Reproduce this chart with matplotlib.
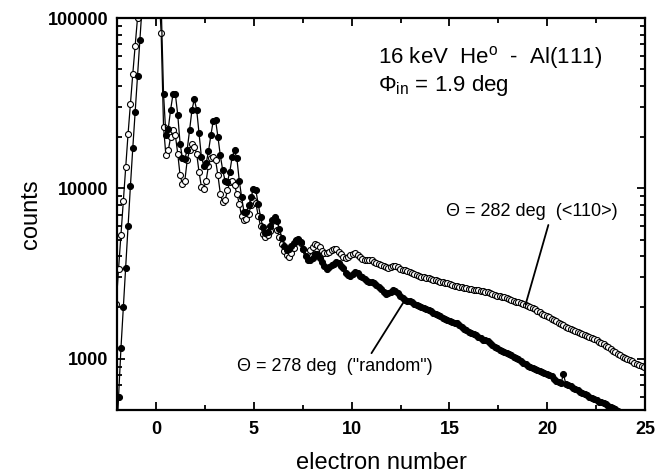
"""
Electron number spectra, 16 keV He on Al(111), two azimuthal angles.
"""

import numpy as np
import matplotlib
matplotlib.use("Agg")
import matplotlib.pyplot as plt
from matplotlib.ticker import MultipleLocator, LogLocator, FixedFormatter, FixedLocator, NullFormatter

plt.rcParams["font.family"] = ["Liberation Sans", "DejaVu Sans"]
plt.rcParams["mathtext.fontset"] = "custom"
plt.rcParams["mathtext.rm"] = "Liberation Sans"
plt.rcParams["mathtext.it"] = "Liberation Sans:italic"

# channel grid in electron-number units (first channel, channel width)
x_start = -2.04
x_step = 0.121

# Theta = 282 deg (<110>), open circles
counts_110 = [
    2100, 3380, 5300, 8400, 13300, 20800, 31200, 46900, 68400, 100000,
    150000, 220000, 300000, 400000, 450000, 450000, 380000, 250000, 150000, 81300,
    23000, 15600, 16700, 20000, 21900, 20500, 16000, 11900, 10600, 11100,
    14600, 16700, 18100, 17500, 16000, 12500, 10200, 9960, 11100, 13600,
    15000, 15300, 14600, 11900, 9300, 8320, 8500, 9730, 10900, 11100,
    10400, 9300, 8120, 6840, 6480, 6640, 7100, 7940, 8570, 8200,
    6930, 6000, 5400, 5170, 5300, 5600, 6200, 6000, 5700, 5200,
    4700, 4300, 4050, 3950, 4150, 4450, 4900, 5000, 4750, 4400,
    4220, 4250, 4350, 4550, 4700, 4650, 4500, 4300, 4150, 4150,
    4220, 4350, 4420, 4380, 4250, 4100, 3980, 3920, 3950, 4050,
    4130, 4150, 4050, 3950, 3850, 3800, 3780, 3800, 3780, 3700,
    3650, 3600, 3560, 3500, 3440, 3420, 3440, 3480, 3500, 3450,
    3380, 3340, 3300, 3260, 3220, 3180, 3140, 3100, 3060, 3030,
    3010, 2990, 2960, 2930, 2900, 2880, 2860, 2840, 2820, 2800,
    2780, 2750, 2720, 2690, 2660, 2640, 2620, 2600, 2590, 2570,
    2560, 2540, 2530, 2520, 2510, 2500, 2480, 2450, 2420, 2390,
    2360, 2340, 2320, 2300, 2290, 2270, 2240, 2210, 2180, 2160,
    2140, 2120, 2100, 2080, 2050, 2020, 1990, 1950, 1910, 1870,
    1840, 1810, 1780, 1750, 1720, 1690, 1660, 1630, 1600, 1570,
    1545, 1520, 1500, 1480, 1460, 1440, 1420, 1400, 1380, 1360,
    1340, 1320, 1300, 1280, 1260, 1240, 1215, 1190, 1165, 1140,
    1115, 1090, 1070, 1050, 1030, 1010, 995, 980, 965, 950,
    935, 920, 910, 895,
]

# Theta = 278 deg ("random"), filled circles
counts_random = [
    300, 600, 1150, 2000, 3400, 6000, 10300, 17200, 28000, 45600,
    74300, 120000, 200000, 300000, 400000, 450000, 420000, 300000, 150000, 120000,
    36000, 20500, 22400, 29000, 35700, 35700, 27100, 18300, 15000, 14800,
    16900, 21900, 28800, 33300, 29000, 21000, 15300, 13600, 14000, 16500,
    20500, 24900, 25100, 20000, 15600, 12800, 11100, 10900, 12500, 15300,
    16700, 15000, 11100, 8900, 7270, 7270, 7940, 8900, 9960, 9740,
    8120, 6780, 5900, 5500, 5550, 6000, 6500, 6780, 6400, 5800,
    5100, 4600, 4320, 4400, 4600, 4750, 4950, 5060, 4850, 4400,
    4030, 3780, 3800, 3900, 4100, 4130, 3900, 3700, 3500, 3380,
    3450, 3550, 3600, 3700, 3650, 3500, 3400, 3200, 3120, 3080,
    3150, 3220, 3180, 3050, 3000, 2920, 2870, 2830, 2810, 2780,
    2720, 2650, 2560, 2470, 2400, 2420, 2480, 2520, 2500, 2420,
    2330, 2260, 2210, 2190, 2170, 2150, 2100, 2060, 2050, 2020,
    1980, 1950, 1930, 1900, 1860, 1830, 1800, 1770, 1740, 1720,
    1690, 1660, 1640, 1630, 1610, 1570, 1530, 1500, 1470, 1440,
    1420, 1400, 1370, 1340, 1320, 1290, 1290, 1270, 1240, 1200,
    1170, 1150, 1120, 1110, 1090, 1080, 1070, 1050, 1030, 1010,
    990, 970, 950, 930, 910, 890, 880, 870, 860, 850,
    835, 825, 815, 805, 790, 760, 745, 730, 720, 810,
    715, 700, 690, 675, 665, 655, 640, 630, 620, 610,
    600, 590, 580, 570, 560, 555, 550, 540, 530, 520,
    515, 505, 495, 485, 470, 460, 450, 440, 430, 420,
    410, 400, 390, 380,
]

electron_number = x_start + x_step * np.arange(len(counts_110))

y_ticks = [1000, 10000, 100000]
y_tick_labels = ["1000", "10000", "100000"]

fig = plt.figure(figsize=(6.67, 4.75), dpi=100)
ax = fig.add_axes([0.1754, 0.1368, 0.7916, 0.8253])

ax.plot(electron_number, counts_110, "-o", color="black", lw=0.9,
        ms=4.3, mfc="white", mec="black", mew=0.8)
ax.plot(electron_number, counts_random, "-o", color="black", lw=0.9,
        ms=4.3, mfc="black", mec="black", mew=0.8)

ax.set_yscale("log")
ax.set_xlim(-2, 25)
ax.set_ylim(500, 100000)

ax.xaxis.set_major_locator(MultipleLocator(5))
ax.xaxis.set_minor_locator(MultipleLocator(2.5))
ax.yaxis.set_major_locator(FixedLocator(y_ticks))
ax.yaxis.set_major_formatter(FixedFormatter(y_tick_labels))
ax.yaxis.set_minor_locator(LogLocator(base=10, subs=np.arange(2, 10)))
ax.yaxis.set_minor_formatter(NullFormatter())

ax.tick_params(which="both", direction="in", top=True, right=True, width=1.3)
ax.tick_params(which="major", length=6, labelsize=13, pad=6)
ax.tick_params(which="minor", length=3.5)
ax.tick_params(axis="x", which="major", pad=8)
for lab in ax.get_xticklabels() + ax.get_yticklabels():
    lab.set_fontweight("bold")
for sp in ax.spines.values():
    sp.set_linewidth(1.6)

ax.set_xlabel("electron number", fontsize=17, labelpad=10)
ax.set_ylabel("counts", fontsize=17, labelpad=4)

ax.text(0.494, 0.899, "16 keV  He$^{\\mathrm{o}}$  -  Al(111)", transform=ax.transAxes,
        fontsize=16, ha="left", va="center")
ax.text(0.494, 0.829, "$\\Phi_{\\mathrm{in}}$ = 1.9 deg", transform=ax.transAxes,
        fontsize=16, ha="left", va="center")

ax.text(0.624, 0.506, "\u0398 = 282 deg  (<110>)", transform=ax.transAxes,
        fontsize=13, ha="left", va="center")
ax.text(0.227, 0.110, "\u0398 = 278 deg  (\"random\")", transform=ax.transAxes,
        fontsize=13, ha="left", va="center")

i110 = 173
irnd = 122
ax.annotate("", xy=(electron_number[i110], counts_110[i110]), xycoords="data",
            xytext=(0.817, 0.472), textcoords="axes fraction",
            arrowprops=dict(arrowstyle="-", color="black", lw=1.3,
                            shrinkA=0, shrinkB=0))
ax.annotate("", xy=(electron_number[irnd], counts_random[irnd]), xycoords="data",
            xytext=(0.482, 0.145), textcoords="axes fraction",
            arrowprops=dict(arrowstyle="-", color="black", lw=1.3,
                            shrinkA=0, shrinkB=0))

fig.savefig("out.png", dpi=100)
